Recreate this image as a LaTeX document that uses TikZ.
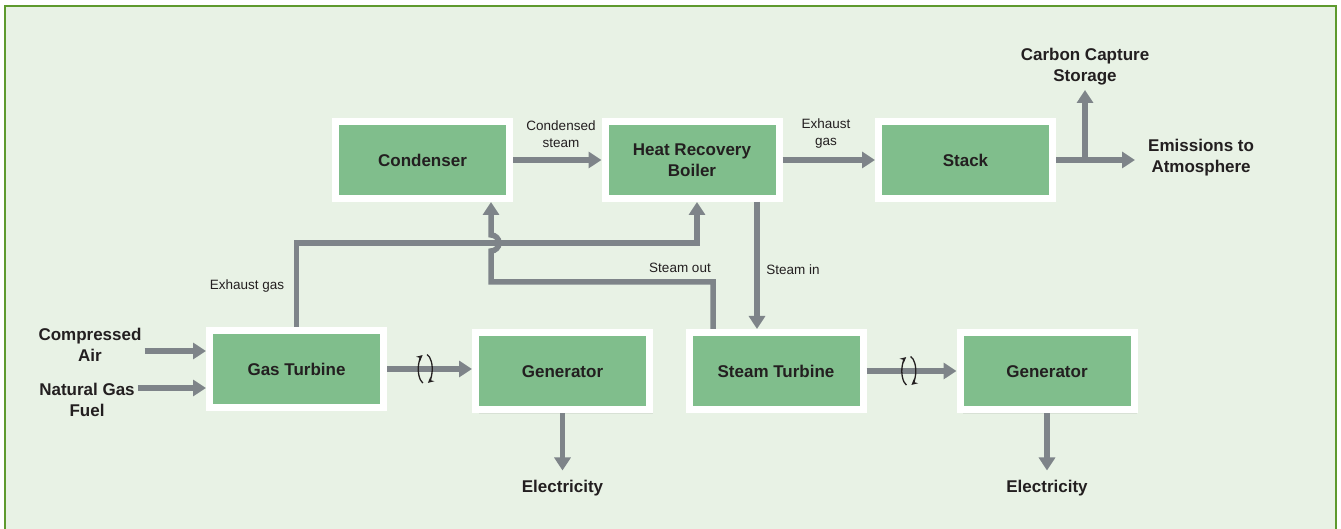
\documentclass[tikz,border=0pt]{standalone}
\usepackage{fontspec}
\setmainfont{Liberation Sans}
\usepackage{xcolor}
\usetikzlibrary{arrows.meta,positioning,calc,shadows}
\definecolor{cBg}{HTML}{E8F2E5}
\definecolor{cFrame}{HTML}{5E9A2E}
\definecolor{cBox}{HTML}{80BE8C}
\definecolor{cPipe}{HTML}{7E8489}
\definecolor{cInk}{HTML}{231F20}
\tikzset{
  unit/.style={draw=white,fill=cBox,line width=7pt,minimum width=174pt,minimum height=77pt,align=center,font=\fontsize{17}{21}\selectfont\bfseries,text=cInk,drop shadow={shadow xshift=3pt,shadow yshift=-4pt,opacity=0.15}},
  arr/.style={-{Triangle[length=13pt,width=16pt]},line width=5.5pt,color=cPipe},
  lbl/.style={font=\fontsize{13.5}{17}\selectfont,text=cInk,align=center,inner sep=2pt},
  term/.style={font=\fontsize{17}{21}\selectfont\bfseries,text=cInk,align=center,inner sep=3pt},
  rot/.style={-{Stealth[length=6pt,width=6pt]},line width=1.3pt,color=cInk},
}

\begin{document}
\begin{tikzpicture}[x=1pt,y=1pt]
        \useasboundingbox (0,0) rectangle (1341,529);
        \fill[cBg] (5,-5) rectangle (1336,523);
        \draw[cFrame,line width=2.5pt] (5,-5) -- (5,523) -- (1336,523) -- (1336,-5);
        % plant units
        \node[unit] (cond) at (422.5,369) {Condenser};
        \node[unit] (hrb) at (692,369) {Heat Recovery\\Boiler};
        \node[unit] (stack) at (965.5,369) {Stack};
        \node[unit] (gt) at (296.5,160) {Gas Turbine};
        \node[unit] (gen1) at (562.5,157.5) {Generator};
        \node[unit] (st) at (776,158) {Steam Turbine};
        \node[unit] (gen2) at (1047,157.5) {Generator};
        % inputs
        \node[term] (air) at (90,184) {Compressed\\Air};
        \node[term] (fuel) at (87,129) {Natural Gas\\Fuel};
        \coordinate (gtin1) at ([yshift=18pt]gt.west);
        \coordinate (gtin2) at ([yshift=-19pt]gt.west);
        \draw[arr] (air.east |- gtin1) -- (gtin1);
        \draw[arr] (fuel.east |- gtin2) -- (gtin2);
        % top row
        \draw[arr] (cond.east) -- (hrb.west |- cond.east);
        \draw[arr] (hrb.east) -- (stack.west |- hrb.east);
        \node[lbl] (lcond) at (561,395) {Condensed\\steam};
        \node[lbl] (lexh1) at (826,395) {Exhaust\\gas};
        % stack outlets
        \coordinate (jn) at ([xshift=29pt]stack.east);
        \coordinate (emisin) at ([xshift=79pt]stack.east);
        \coordinate (ccsin) at ([yshift=70pt]jn);
        \node[term,right=10pt of emisin,yshift=2pt] (emis) {Emissions to\\Atmosphere};
        \node[term,above=2pt of ccsin] (ccs) {Carbon Capture\\Storage};
        \draw[arr] (stack.east) -- (emisin);
        \draw[arr] ([yshift=-2.75pt]jn) -- (ccsin);
        % exhaust gas to boiler
        \coordinate (yexh) at (0,286);
        \coordinate (hrbin) at ([xshift=5pt]hrb.south);
        \draw[arr] (gt.north) |- (yexh -| hrbin) -- (hrbin);
        \node[lbl] (lexh2) at (247,243) {Exhaust gas};
        % steam out, hopping over the exhaust line
        \coordinate (sout) at ([xshift=-63pt]st.north);
        \coordinate (cdin) at ([xshift=68.5pt]cond.south);
        \coordinate (yout) at (0,247);
        \coordinate (hop) at ([yshift=-8pt]yexh -| cdin);
        \draw[arr] (sout) |- (yout -| cdin) -- (hop) arc[start angle=-90,end angle=90,radius=8pt] -- (cdin);
        \node[lbl] (lout) at (680,261) {Steam out};
        % steam in
        \coordinate (sin) at ([xshift=65pt]hrb.south);
        \draw[arr] (sin) -- (sin |- st.north);
        \node[lbl] (lin) at (793,259) {Steam in};
        % shafts
        \draw[arr] (gt.east) -- (gen1.west |- gt.east);
        \draw[arr] (st.east) -- (gen2.west |- st.east);
        \coordinate (rotA) at ($(gt.east)!0.45!(gen1.west |- gt.east)$);
        \coordinate (rotB) at ($(st.east)!0.47!(gen2.west |- st.east)$);
        \foreach \c in {rotA,rotB}{
          \draw[rot] (\c) ++(250:7pt and 15pt) arc[start angle=250,end angle=112,x radius=7pt,y radius=15pt];
          \draw[rot] (\c) ++(75:7pt and 15pt) arc[start angle=75,end angle=-68,x radius=7pt,y radius=15pt];
        }
        % electricity
        \coordinate (e1in) at ([yshift=-57pt]gen1.south);
        \coordinate (e2in) at ([yshift=-57pt]gen2.south);
        \node[term,below=6pt of e1in] (elec1) {Electricity};
        \node[term,below=6pt of e2in] (elec2) {Electricity};
        \draw[arr] (gen1.south) -- (e1in);
        \draw[arr] (gen2.south) -- (e2in);
      \end{tikzpicture}
\end{document}
